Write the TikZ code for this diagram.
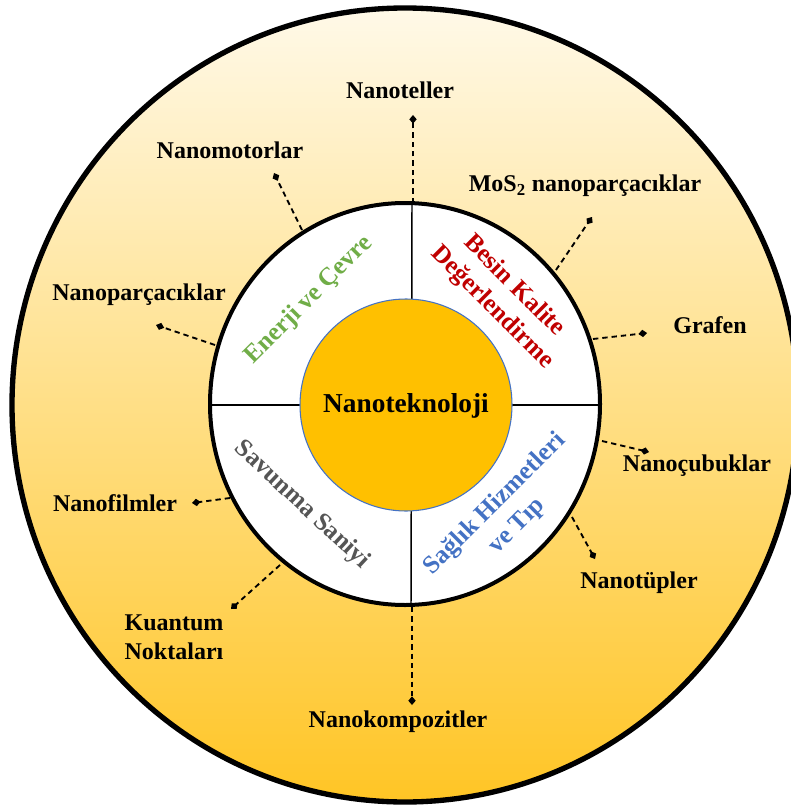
\documentclass[tikz,border=0pt]{standalone}
\usepackage{fontspec}
\setmainfont{Liberation Serif}
\usetikzlibrary{arrows.meta}
\definecolor{ringtop}{HTML}{FFF9E8}
\definecolor{ringmid}{HTML}{FFD966}
\definecolor{ringbot}{HTML}{FFC525}
\definecolor{corefill}{HTML}{FFC000}
\definecolor{coreedge}{HTML}{4472C4}
\definecolor{greenT}{HTML}{70AD47}
\definecolor{redT}{HTML}{C00000}
\definecolor{grayT}{HTML}{555555}
\definecolor{blueT}{HTML}{4472C4}
\tikzset{
  lbl/.style={font=\fontsize{18pt}{22pt}\selectfont\bfseries, inner sep=0pt, align=center},
  sector/.style={font=\fontsize{19pt}{23pt}\selectfont\bfseries, inner sep=0pt, align=center},
  conn/.style={line width=1.4pt, dash pattern=on 4pt off 3pt, -{Diamond[length=6.5pt,width=5.5pt]}},
  divider/.style={line width=1.1pt}
}
\begin{document}
\begin{tikzpicture}[x=0.75pt,y=-0.75pt]
\useasboundingbox (0,0) rectangle (791,806);
\begin{scope}
  \clip (0,0) rectangle (791,806);
  \shade[top color=ringtop, middle color=ringmid, bottom color=ringbot]
    (405,405) ellipse [x radius=294.75pt, y radius=297.75pt];
  \draw[line width=4pt] (405,405) ellipse [x radius=294.75pt, y radius=297.75pt];
\end{scope}
% inner white ring
\draw[line width=3pt, fill=white] (405,404) ellipse [x radius=146.25pt, y radius=150.75pt];
\coordinate (vtop) at (412,203);
\coordinate (vbot) at (411,605);
\coordinate (hleft) at (210,405);
\coordinate (hright) at (599,405);
\draw[divider] (vtop) -- (vbot);
\draw[divider] (hleft) -- (hright);
% core
\draw[draw=coreedge, line width=0.8pt, fill=corefill] (406,405) circle [radius=79.5pt];
\node[font=\fontsize{20.5pt}{24pt}\selectfont\bfseries, inner sep=0pt] (core) at (406,406) {Nanoteknoloji};
% sector labels
\node[sector, text=greenT, rotate=45] (energy) at (309,300) {Enerji ve Çevre};
\node[sector, text=redT, rotate=-45] (food) at (503,297) {Besin Kalite\\Değerlendirme};
\node[sector, text=grayT, rotate=-43] (defense) at (302,505) {Savunma Saniyi};
\node[sector, text=blueT, rotate=45] (health) at (506,515) {Sağlık Hizmetleri\\ve Tıp};
% outer labels
\node[lbl] (teller) at (400,90) {Nanoteller};
\node[lbl] (motor) at (230,150) {Nanomotorlar};
\node[lbl] (parc) at (139,295) {Nanoparçacıklar};
\node[lbl] (mos) at (585,186) {MoS\textsubscript{2} nanoparçacıklar};
\node[lbl] (grafen) at (710,325) {Grafen};
\node[lbl] (cubuk) at (697,466) {Nanoçubuklar};
\node[lbl] (tup) at (639,583) {Nanotüpler};
\node[lbl] (kompozit) at (398,722) {Nanokompozitler};
\node[lbl] (film) at (115,503) {Nanofilmler};
\node[lbl] (kuantum) at (174,637) {Kuantum\\Noktaları};
% connector endpoints
\coordinate (teller-s) at (413,203); \coordinate (teller-e) at (413,115);
\coordinate (motor-s) at (302,230); \coordinate (motor-e) at (274,173);
\coordinate (parc-s) at (215,345); \coordinate (parc-e) at (156,325);
\coordinate (mos-s) at (556,270); \coordinate (mos-e) at (592,217);
\coordinate (grafen-s) at (593,339); \coordinate (grafen-e) at (647,333);
\coordinate (cubuk-s) at (602,441); \coordinate (cubuk-e) at (649,452);
\coordinate (tup-s) at (572,517); \coordinate (tup-e) at (595,559);
\coordinate (komp-s) at (412,607); \coordinate (komp-e) at (412,705);
\coordinate (film-s) at (230,498); \coordinate (film-e) at (192,503);
\coordinate (kuan-s) at (280,565); \coordinate (kuan-e) at (231,609);
\draw[conn] (teller-s) -- (teller-e);
\draw[conn] (motor-s) -- (motor-e);
\draw[conn] (parc-s) -- (parc-e);
\draw[conn] (mos-s) -- (mos-e);
\draw[conn] (grafen-s) -- (grafen-e);
\draw[conn] (cubuk-s) -- (cubuk-e);
\draw[conn] (tup-s) -- (tup-e);
\draw[conn] (komp-s) -- (komp-e);
\draw[conn] (film-s) -- (film-e);
\draw[conn] (kuan-s) -- (kuan-e);
\end{tikzpicture}
\end{document}
